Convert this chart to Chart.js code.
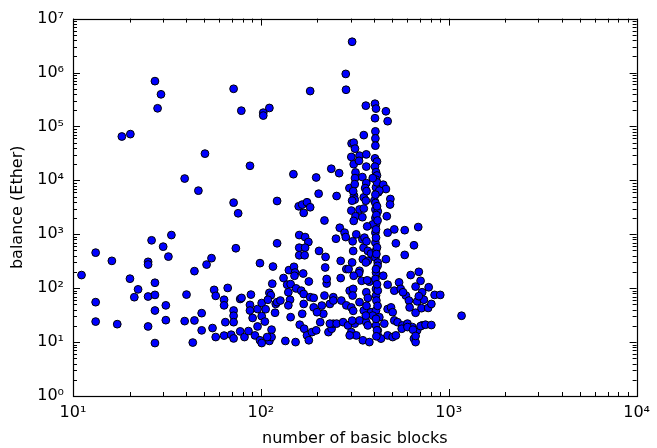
<!DOCTYPE html>
<html>
<head>
<meta charset="utf-8">
<script src="https://cdn.jsdelivr.net/npm/chart.js@4"></script>
<style>
html,body{margin:0;padding:0;background:#fff;}
#wrap{width:657px;height:448px;}
</style>
</head>
<body>
<div id="wrap"><canvas id="c" width="657" height="448"></canvas></div>
<script>
// number of basic blocks (x) and balance in Ether (y)
const basicBlocks = [
11.1,13.2,13.2,13.2,16.1,17.2,18.2,20.2,20.1,22.2,21.2,25.1,25.1,26.2,30.2,33.4,32.2,27.3,25.1,27.3,
27.3,25.1,27.3,31.2,31.2,39.3,40.2,39.3,46.5,27.3,29.4,28.2,50.4,71.6,78.7,87.5,103,103,111,149,
183,197,203,237,261,253,283,284,306,296,71.6,75.7,122,122,73.6,98.9,116,54.6,51.4,44.3,
56.4,57.5,66.6,63.7,63.7,71.6,71.6,71.6,64.7,48.4,44.3,48.4,43.4,55.3,57.5,63.7,69.5,71.6,77.6,78.9,
77.6,81.8,85.9,87.5,87.5,88.5,90.4,93,96,96,98.9,101,101,101,105,106,111,111,113,109,
114,114,119,120,115,141,150,152,168,151,220,132,138,144,154,164,169,180,183,191,
224,218,243,122,127,140,143,140,108,135,153,161,170,176,180,187,197,207,215,229,
238,243,166,191,199,211,233,144,169,159,166,176,183,169,218,263,279,251,283,160,
172,179,160,172,160,171,204,221,266,285,224,266,362,405,410,463,473,405,353,407,
407,407,304,312,317,303,335,364,312,333,364,405,415,405,319,317,347,364,410,415,
410,316,359,410,415,448,463,313,353,402,422,489,394,427,316,407,487,303,335,353,
407,407,419,468,319,347,407,410,394,322,347,356,407,407,410,473,513,583,688,523,
653,583,352,371,386,410,407,419,463,349,371,293,335,333,344,378,410,407,410,448,
473,513,544,555,591,627,693,708,722,666,614,679,737,297,310,364,371,410,419,243,
268,285,303,335,353,386,410,394,427,473,493,503,233,253,274,291,316,335,364,371,
410,419,454,513,534,567,603,640,679,722,653,666,303,322,349,378,419,436,473,503,
297,571,782,693,841,901,619,666,716,777,808,1170,562,603,645,708,752,808,666,523,
415,412,418,410,415,412,418,410,415,412,418,410,415,412,
310,306,312,308,310,306,312,308,310,306,
365,362,368,365,362,368,365,362
];
const balanceEther = [
175,456,55,24,321,21.5,65000,72000,150,95,68,308,274,772,589,966,385,126,70,75,
38.5,19.5,9.6,48,25.5,24.5,76,10800,6440,692000,394000,217000,31300,499000,196000,18600,180000,159000,220000,13000,
453000,11300,5660,16400,13600,5120,942000,479000,3720000,7180,3860,2450,4140,680,550,291,252,360,274,207,
93,72,101,61,48,38.5,30.8,23.4,23.4,34.4,25.2,16.5,9.8,18.2,12.4,13.2,13.7,11.7,63,66,
15.8,12.4,16,49,38.5,76,28,13.3,41,19.5,10.8,9.6,53,30.3,24,40.7,10.5,82,74,61,
17,12.4,35,51,121,216,249,195,187,170,242,154,116,119,99,90,78,133,68,66,
122,73,68,55,59,84,61,48,12.4,10.5,10,21,17.7,13.3,10.8,15.3,16.5,23.4,33.5,15.3,
17.7,21.9,33.5,44,35.8,47.6,51,29,51,3300,3550,3920,3170,2490,1800,1320,1070,827,887,966,
887,718,564,564,408,408,491,380,321,226,148,154,243000,264000,214000,191000,125000,142000,69000,81000,
60000,44000,48400,50000,38700,27200,28700,30300,19900,23000,18000,25600,22300,18000,14000,11000,11500,8900,14200,12300,
10300,8500,7180,7400,9150,8300,6890,5200,4840,4210,5990,4510,11000,6440,4400,5430,3560,2750,2880,3000,
3800,2880,2670,2160,2160,2070,2010,1520,1520,995,805,865,1070,697,863,1070,1230,1190,1360,680,
625,414,564,491,438,491,369,298,345,345,321,226,210,190,137,132,195,148,97,170,
116,90,128,97,73,175,201,137,84,107,59,57,61,90,97,84,66,73,90,59,
59,48,44,55,38.5,35.8,38.5,31,29,41,44,35.8,22,22,23.4,20.4,22,25.2,23.4,20.4,
20.4,16.5,22,25.2,23.4,20.4,22,19,16.5,20.4,11.6,10,15.3,13.3,10.8,10,13.3,11.6,13.3,12.4,
13.3,84,104,71,75,75,44,35,42.5,43,51,30.8,17.7,19,17,19.8,21,20.7,13,13.3,
3300,2270,1800,1230,570,430,260,225,118,59,47,27,16.5,12.8,
6300,4200,1770,740,490,300,170,73,38,25,
6300,4200,1400,740,300,140,47,31
];
const xTickValues = [10, 100, 1000, 10000];
const xTickLabels = ['10¹', '10²', '10³', '10⁴'];
const yTickValues = [1, 10, 100, 1000, 10000, 100000, 1000000, 10000000];
const yTickLabels = ['10⁰', '10¹', '10²', '10³', '10⁴', '10⁵', '10⁶', '10⁷'];
const xLabel = 'number of basic blocks';
const yLabel = 'balance (Ether)';

const points = basicBlocks.map((x, i) => ({x: x, y: balanceEther[i]}));

function labelFor(values, labels, v) {
  const i = values.findIndex(t => Math.abs(t - v) / t < 1e-9);
  return i >= 0 ? labels[i] : '';
}

const FONT = 'DejaVu Sans';

const frameTicks = {
  id: 'frameTicks',
  afterDatasetsDraw(chart) {
    const {ctx, chartArea: a, scales: {x, y}} = chart;
    ctx.save();
    ctx.strokeStyle = '#000';
    ctx.lineWidth = 1;
    ctx.beginPath();
    const minors = (lo, hi) => {
      const out = [];
      for (let d = lo; d < hi; d *= 10) {
        for (let m = 1; m <= 9; m++) out.push({v: m * d, major: m === 1});
      }
      out.push({v: hi, major: true});
      return out;
    };
    minors(10, 10000).forEach(t => {
      const px = Math.round(x.getPixelForValue(t.v)) + 0.5;
      const L = t.major ? 7 : 4;
      ctx.moveTo(px, a.bottom); ctx.lineTo(px, a.bottom - L);
      ctx.moveTo(px, a.top); ctx.lineTo(px, a.top + L);
    });
    minors(1, 10000000).forEach(t => {
      const py = Math.round(y.getPixelForValue(t.v)) + 0.5;
      const L = t.major ? 7 : 4;
      ctx.moveTo(a.left, py); ctx.lineTo(a.left + L, py);
      ctx.moveTo(a.right, py); ctx.lineTo(a.right - L, py);
    });
    ctx.stroke();
    ctx.lineWidth = 1.2;
    ctx.strokeRect(Math.round(a.left) + 0.5, Math.round(a.top) + 0.5,
                   Math.round(a.right - a.left), Math.round(a.bottom - a.top));
    ctx.restore();
  }
};

new Chart(document.getElementById('c'), {
  type: 'scatter',
  data: {
    datasets: [{
      data: points,
      backgroundColor: '#0000ff',
      borderColor: '#000000',
      borderWidth: 1,
      pointRadius: 3.9,
      pointHoverRadius: 3.9
    }]
  },
  options: {
    responsive: false,
    animation: false,
    devicePixelRatio: 1,
    layout: {padding: {top: 16, right: 14, left: 0, bottom: 0}},
    plugins: {legend: {display: false}, tooltip: {enabled: false}},
    scales: {
      x: {
        type: 'logarithmic',
        min: 10, max: 10000,
        grid: {display: false, drawTicks: false},
        border: {display: false},
        afterBuildTicks: s => { s.ticks = xTickValues.map(v => ({value: v})); },
        afterFit: s => { s.height = 52; },
        ticks: {
          autoSkip: false, maxRotation: 0, padding: 7, color: '#000',
          font: {family: FONT, size: 16},
          callback: v => labelFor(xTickValues, xTickLabels, v)
        },
        title: {display: true, text: xLabel, color: '#000',
                font: {family: FONT, size: 16}, padding: {top: 0, bottom: 0}}
      },
      y: {
        type: 'logarithmic',
        min: 1, max: 10000000,
        grid: {display: false, drawTicks: false},
        border: {display: false},
        afterBuildTicks: s => { s.ticks = yTickValues.map(v => ({value: v})); },
        afterFit: s => { s.width = 73; },
        ticks: {
          autoSkip: false, padding: 9, color: '#000',
          font: {family: FONT, size: 16},
          callback: v => labelFor(yTickValues, yTickLabels, v)
        },
        title: {display: true, text: yLabel, color: '#000',
                font: {family: FONT, size: 16}, padding: {top: 8, bottom: 0}}
      }
    }
  },
  plugins: [frameTicks]
});
</script>
</body>
</html>
